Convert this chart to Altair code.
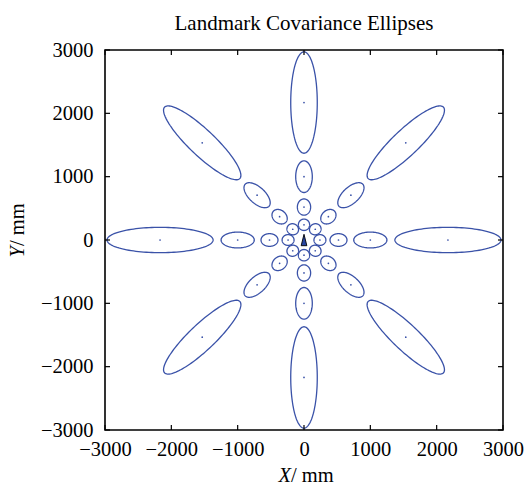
import numpy as np
import pandas as pd
import altair as alt

# Landmarks lie on eight bearings at four ranges from the robot.
bearings_deg = [0, 45, 90, 135, 180, 225, 270, 315]
ranges_mm = [240, 520, 1000, 2170]
# 1-sigma semi-axes of each landmark's covariance ellipse, per range ring
# (major axis along the bearing, minor axis across it).
semi_major_mm = [90, 128, 250, 800]
semi_minor_mm = [85, 100, 125, 200]

robot_x = [0]
robot_y = [0]

tick_values = [-3000, -2000, -1000, 0, 1000, 2000, 3000]
axis_limits = [-3000, 3000]

W, H = 398, 380
FONT = "Liberation Serif"
BLUE = "#3a52a8"

# Build outlines and centres from the covariance parameters
rows, centres = [], []
t = np.linspace(0, 2 * np.pi, 121)
lid = 0
for b in bearings_deg:
    th = np.deg2rad(b)
    for r, a, s in zip(ranges_mm, semi_major_mm, semi_minor_mm):
        cx, cy = r * np.cos(th), r * np.sin(th)
        ex = a * np.cos(t)
        ey = s * np.sin(t)
        px = cx + ex * np.cos(th) - ey * np.sin(th)
        py = cy + ex * np.sin(th) + ey * np.cos(th)
        for k, (u, v) in enumerate(zip(px, py)):
            rows.append({"id": lid, "k": k, "x": u, "y": v})
        centres.append({"x": cx, "y": cy})
        lid += 1
ell_df = pd.DataFrame(rows)
ctr_df = pd.DataFrame(centres)
robot_df = pd.DataFrame({"x": robot_x, "y": robot_y})

xs = alt.Scale(domain=axis_limits, nice=False, zero=False)
ys = alt.Scale(domain=axis_limits, nice=False, zero=False)

x_axis = alt.Axis(values=tick_values, format="d", title="", ticks=False, domain=False, grid=False,
                  labelFont=FONT, labelFontSize=20.5, labelColor="black",
                  labelPadding=9, labelFlush=False, labelOverlap=False)
y_axis = alt.Axis(values=tick_values, format="d", title="", ticks=False, domain=False, grid=False,
                  labelFont=FONT, labelFontSize=20.5, labelColor="black",
                  labelPadding=12, labelFlush=False, labelOverlap=False)

X = alt.X("x:Q", scale=xs, axis=x_axis)
Y = alt.Y("y:Q", scale=ys, axis=y_axis)

ellipses = alt.Chart(ell_df).mark_line(color=BLUE, strokeWidth=1.3).encode(
    x=X, y=Y, detail="id:N", order="k:Q",
)

dots = alt.Chart(ctr_df).mark_circle(color=BLUE, size=3, opacity=1).encode(x=X, y=Y)

robot = alt.Chart(robot_df).mark_point(
    shape="M0,-1L0.5,1L-0.5,1Z", size=130, filled=True,
    fill="#2846a0", stroke="black", strokeWidth=0.9, opacity=1,
).encode(x=X, y=Y)

# Inward-pointing ticks on all four sides of the box
tick_len_x = 5 / W * (axis_limits[1] - axis_limits[0])
tick_len_y = 5 / H * (axis_limits[1] - axis_limits[0])
lo, hi = axis_limits
tick_rows = []
for v in tick_values:
    tick_rows.append({"x": v, "x2": v, "y": lo, "y2": lo + tick_len_y})
    tick_rows.append({"x": v, "x2": v, "y": hi, "y2": hi - tick_len_y})
    tick_rows.append({"x": lo, "x2": lo + tick_len_x, "y": v, "y2": v})
    tick_rows.append({"x": hi, "x2": hi - tick_len_x, "y": v, "y2": v})
ticks = alt.Chart(pd.DataFrame(tick_rows)).mark_rule(color="black", strokeWidth=1.2).encode(
    x=X, x2="x2:Q", y=Y, y2="y2:Q",
)

one = pd.DataFrame({"a": [0]})
txt = dict(font=FONT, fontSize=20.5, color="black", baseline="alphabetic")
x_var = alt.Chart(one).mark_text(text="X", fontStyle="italic", align="right", **txt).encode(
    x=alt.value(186), y=alt.value(H + 52))
x_unit = alt.Chart(one).mark_text(text="/ mm", align="left", **txt).encode(
    x=alt.value(186), y=alt.value(H + 52))
y_var = alt.Chart(one).mark_text(text="Y", fontStyle="italic", align="right", angle=270, **txt).encode(
    x=alt.value(-81), y=alt.value(196))
y_unit = alt.Chart(one).mark_text(text="/ mm", align="left", angle=270, **txt).encode(
    x=alt.value(-81), y=alt.value(196))

chart = alt.layer(ellipses, dots, robot, ticks, x_var, x_unit, y_var, y_unit).properties(
    width=W, height=H,
    background="white",
    autosize=alt.AutoSizeParams(type="none"),
    padding={"left": 105, "top": 50, "right": 22, "bottom": 56},
    title=alt.TitleParams("Landmark Covariance Ellipses", font=FONT, fontSize=21,
                          fontWeight="normal", color="black", anchor="middle", offset=6),
).configure_view(stroke="black", strokeWidth=1.6)

chart.save("out.html", embed_options={"renderer": "svg", "actions": False})
